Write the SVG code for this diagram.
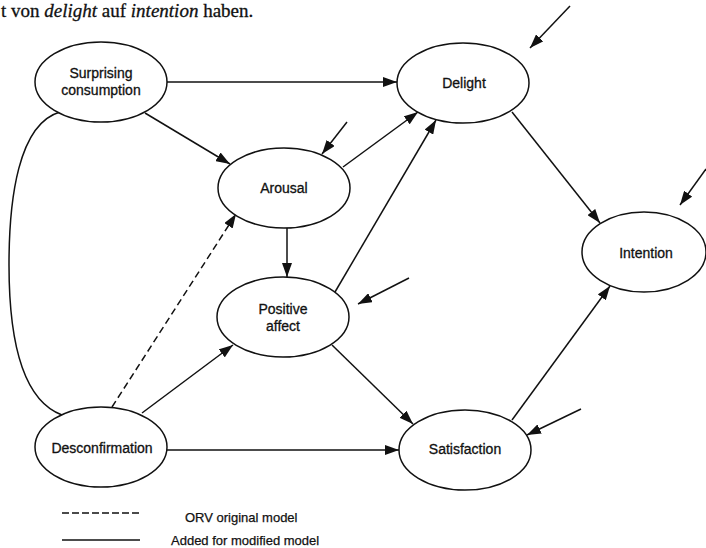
<svg xmlns="http://www.w3.org/2000/svg" width="706" height="548" viewBox="0 0 706 548">
  <style>
    .node { fill: #fff; stroke: #111; stroke-width: 1.5; }
    .lbl { font-family: "Liberation Sans", Arial, sans-serif; font-size: 14px; fill: #111; stroke: #111; stroke-width: 0.3; text-anchor: middle; }
    .legend { font-family: "Liberation Sans", Arial, sans-serif; font-size: 13px; fill: #111; stroke: #111; stroke-width: 0.25; }
    .edge { fill: none; stroke: #111; stroke-width: 1.5; }
    .arrow { marker-end: url(#head); }
    .dash { stroke-dasharray: 7 4; }
    .caption { font-family: "Liberation Serif", "Times New Roman", serif; font-size: 19px; fill: #111; stroke: #111; stroke-width: 0.3; }
  </style>
  <defs>
    <marker id="head" viewBox="0 0 14 10" refX="14" refY="5" markerWidth="14" markerHeight="10" markerUnits="userSpaceOnUse" orient="auto">
      <path d="M0,0 L14,5 L0,10 z" fill="#111"/>
    </marker>
  </defs>
  <rect width="706" height="548" fill="#fff"/>

  <!-- running text line above the figure -->
  <text class="caption" x="1" y="17">t von <tspan font-style="italic">delight</tspan> auf <tspan font-style="italic">intention</tspan> haben.</text>

  <g id="connectors">
    <!-- correlation between surprising consumption and desconfirmation -->
    <path class="edge" d="M60,112 C18,124 9,200 9,265 C9,340 22,400 62,415"/>
    <!-- structural paths -->
    <path class="edge arrow" d="M167,82 L397,82"/>
    <path class="edge arrow" d="M145,113 L230,164"/>
    <path class="edge arrow dash" d="M112,407 L236,214"/>
    <path class="edge arrow" d="M142,413 L233,345"/>
    <path class="edge arrow" d="M167,450 L399,450"/>
    <path class="edge arrow" d="M343,167 L418,112"/>
    <path class="edge arrow" d="M287,228 L287,277"/>
    <path class="edge arrow" d="M335,292 L436,120"/>
    <path class="edge arrow" d="M332,345 L413,424"/>
    <path class="edge arrow" d="M512,112 L600,223"/>
    <path class="edge arrow" d="M512,420 L610,286"/>
    <!-- disturbance terms -->
    <path class="edge arrow" d="M570,6 L530,48"/>
    <path class="edge arrow" d="M347,122 L322,154"/>
    <path class="edge arrow" d="M706,169 L680,205"/>
    <path class="edge arrow" d="M409,278 L358,304"/>
    <path class="edge arrow" d="M581,409 L527,435"/>
  </g>

  <g id="surprising">
    <ellipse class="node" cx="101" cy="82" rx="66" ry="40"/>
    <text class="lbl" x="101" y="78">Surprising</text>
    <text class="lbl" x="101" y="95">consumption</text>
  </g>
  <g id="delight">
    <ellipse class="node" cx="463" cy="83" rx="66" ry="40"/>
    <text class="lbl" x="464" y="88">Delight</text>
  </g>
  <g id="arousal">
    <ellipse class="node" cx="284" cy="188" rx="66" ry="40"/>
    <text class="lbl" x="284" y="192.5">Arousal</text>
  </g>
  <g id="positive-affect">
    <ellipse class="node" cx="283" cy="317" rx="66" ry="40"/>
    <text class="lbl" x="283" y="314">Positive</text>
    <text class="lbl" x="283" y="331">affect</text>
  </g>
  <g id="intention">
    <ellipse class="node" cx="644" cy="252" rx="62" ry="40"/>
    <text class="lbl" x="646" y="257.5">Intention</text>
  </g>
  <g id="desconfirmation">
    <ellipse class="node" cx="101" cy="447" rx="66" ry="40"/>
    <text class="lbl" x="102" y="452.5">Desconfirmation</text>
  </g>
  <g id="satisfaction">
    <ellipse class="node" cx="465" cy="450" rx="66" ry="40"/>
    <text class="lbl" x="465" y="454">Satisfaction</text>
  </g>

  <g id="legend">
    <line class="edge" x1="62" y1="513" x2="140" y2="513" stroke-dasharray="7 3"/>
    <text class="legend" x="185" y="522">ORV original model</text>
    <line class="edge" x1="62" y1="540" x2="140" y2="540" stroke-width="1"/>
    <text class="legend" x="171" y="545">Added for modified model</text>
  </g>
</svg>
